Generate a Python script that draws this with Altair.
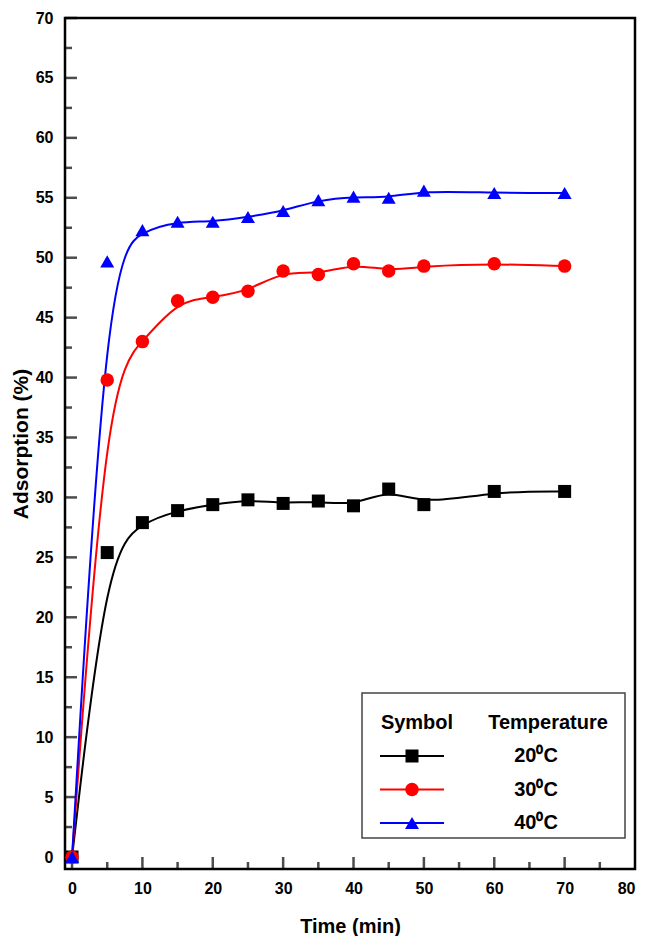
import altair as alt
import pandas as pd

# ---- data ----
times = [0, 5, 10, 15, 20, 25, 30, 35, 40, 45, 50, 60, 70]
ads_20 = [0, 25.4, 27.9, 28.9, 29.4, 29.8, 29.5, 29.7, 29.3, 30.7, 29.4, 30.5, 30.5]
ads_30 = [0, 39.8, 43.0, 46.4, 46.7, 47.2, 48.9, 48.6, 49.5, 48.9, 49.3, 49.5, 49.3]
ads_40 = [0, 49.7, 52.3, 53.0, 53.0, 53.4, 53.9, 54.8, 55.1, 55.0, 55.6, 55.4, 55.4]
series_names = ["20\u2070C", "30\u2070C", "40\u2070C"]
series_colors = ["#000000", "#ff0000", "#0000ff"]
series_shapes = ["square", "circle", "triangle-up"]
series_sizes = [169, 196, 340]

y_ticks_major = list(range(0, 71, 5))
y_ticks_minor = [v + 2.5 for v in range(0, 70, 5)]
x_ticks_major = list(range(0, 71, 10))
x_ticks_minor = list(range(5, 80, 10))
x_labels = list(range(0, 81, 10))

rows = []
for name, vals in zip(series_names, [ads_20, ads_30, ads_40]):
    for t, v in zip(times, vals):
        rows.append({"time": t, "ads": v, "series": name})
df = pd.DataFrame(rows)

leg = pd.DataFrame({"series": series_names, "row": [0, 1, 2]})

W, H = 570, 851
FONT = "Liberation Sans"

xscale = alt.Scale(domain=[-1, 80], nice=False, zero=False)
yscale = alt.Scale(domain=[-1, 70], nice=False, zero=False)
cscale = alt.Scale(domain=series_names, range=series_colors)
sscale = alt.Scale(domain=series_names, range=series_shapes)
zscale = alt.Scale(domain=series_names, range=series_sizes)

x_axis = alt.Axis(values=x_labels, title="Time (min)", domain=False, ticks=False, grid=False,
                  labelFont=FONT, labelFontWeight="bold", labelFontSize=16, labelPadding=11,
                  labelColor="black", titleFont=FONT, titleFontWeight="bold", titleFontSize=20,
                  titlePadding=20, titleColor="black")
y_axis = alt.Axis(values=y_ticks_major, title="Adsorption (%)", domain=False, ticks=False, grid=False,
                  labelFont=FONT, labelFontWeight="bold", labelFontSize=16, labelPadding=12,
                  labelColor="black", titleFont=FONT, titleFontWeight="bold", titleFontSize=21,
                  titlePadding=4, titleColor="black")

X = lambda f: alt.X(f, type="quantitative", scale=xscale, axis=x_axis)

base = alt.Chart(df)

lines = base.mark_line(interpolate="basis", strokeWidth=2).encode(
    x=X("time"),
    y=alt.Y("ads:Q", scale=yscale, axis=None),
    color=alt.Color("series:N", scale=cscale, legend=None),
    detail="series:N",
)

points = base.mark_point(filled=True, opacity=1).encode(
    x=X("time"),
    y=alt.Y("ads:Q", scale=yscale, axis=y_axis),
    color=alt.Color("series:N", scale=cscale, legend=None),
    shape=alt.Shape("series:N", scale=sscale, legend=None),
    size=alt.Size("series:N", scale=zscale, legend=None),
)

ytm = alt.Chart(pd.DataFrame({"v": y_ticks_major})).mark_tick(
    orient="horizontal", size=12, thickness=2.5, color="black").encode(
    y=alt.Y("v:Q", scale=yscale, axis=None), x=alt.value(6))
ytn = alt.Chart(pd.DataFrame({"v": y_ticks_minor})).mark_tick(
    orient="horizontal", size=7, thickness=2.5, color="black").encode(
    y=alt.Y("v:Q", scale=yscale, axis=None), x=alt.value(3.5))
xtm = alt.Chart(pd.DataFrame({"time": x_ticks_major})).mark_tick(
    orient="vertical", size=12, thickness=2.5, color="black").encode(
    x=X("time"), y=alt.value(H - 6))
xtn = alt.Chart(pd.DataFrame({"time": x_ticks_minor})).mark_tick(
    orient="vertical", size=7, thickness=2.5, color="black").encode(
    x=X("time"), y=alt.value(H - 3.5))

# ---- custom legend ----
one = pd.DataFrame({"a": [0]})
box = alt.Chart(one).mark_rect(fill="white", stroke="#444444", strokeWidth=1.5).encode(
    x=alt.value(297), x2=alt.value(560), y=alt.value(675), y2=alt.value(820))
hdr1 = alt.Chart(one).mark_text(font=FONT, fontWeight="bold", fontSize=20, color="black").encode(
    x=alt.value(352), y=alt.value(705), text=alt.value("Symbol"))
hdr2 = alt.Chart(one).mark_text(font=FONT, fontWeight="bold", fontSize=20, color="black").encode(
    x=alt.value(483), y=alt.value(705), text=alt.value("Temperature"))

rowscale = alt.Scale(domain=[0, 2], range=[738, 805])
lbase = alt.Chart(leg)
lrule = lbase.mark_rule(strokeWidth=2).encode(
    y=alt.Y("row:Q", scale=rowscale, axis=None),
    x=alt.value(315), x2=alt.value(379),
    color=alt.Color("series:N", scale=cscale, legend=None))
lpts = lbase.mark_point(filled=True, opacity=1).encode(
    y=alt.Y("row:Q", scale=rowscale, axis=None),
    x=alt.value(347),
    color=alt.Color("series:N", scale=cscale, legend=None),
    shape=alt.Shape("series:N", scale=sscale, legend=None),
    size=alt.Size("series:N", scale=zscale, legend=None))
ltxt = lbase.mark_text(font=FONT, fontWeight="bold", fontSize=20, color="black").encode(
    y=alt.Y("row:Q", scale=rowscale, axis=None),
    x=alt.value(471),
    text="series:N")

chart = alt.layer(
    ytm, ytn, xtm, xtn, lines, points, box, hdr1, hdr2, lrule, lpts, ltxt
).resolve_scale(y="independent").properties(
    width=W, height=H,
    autosize=alt.AutoSizeParams(type="none"),
    padding={"left": 57, "top": 10, "right": 10, "bottom": 67},
).configure(background="white").configure_view(stroke="black", strokeWidth=2.5)

chart.save("out.html", embed_options={"renderer": "svg", "actions": False})
